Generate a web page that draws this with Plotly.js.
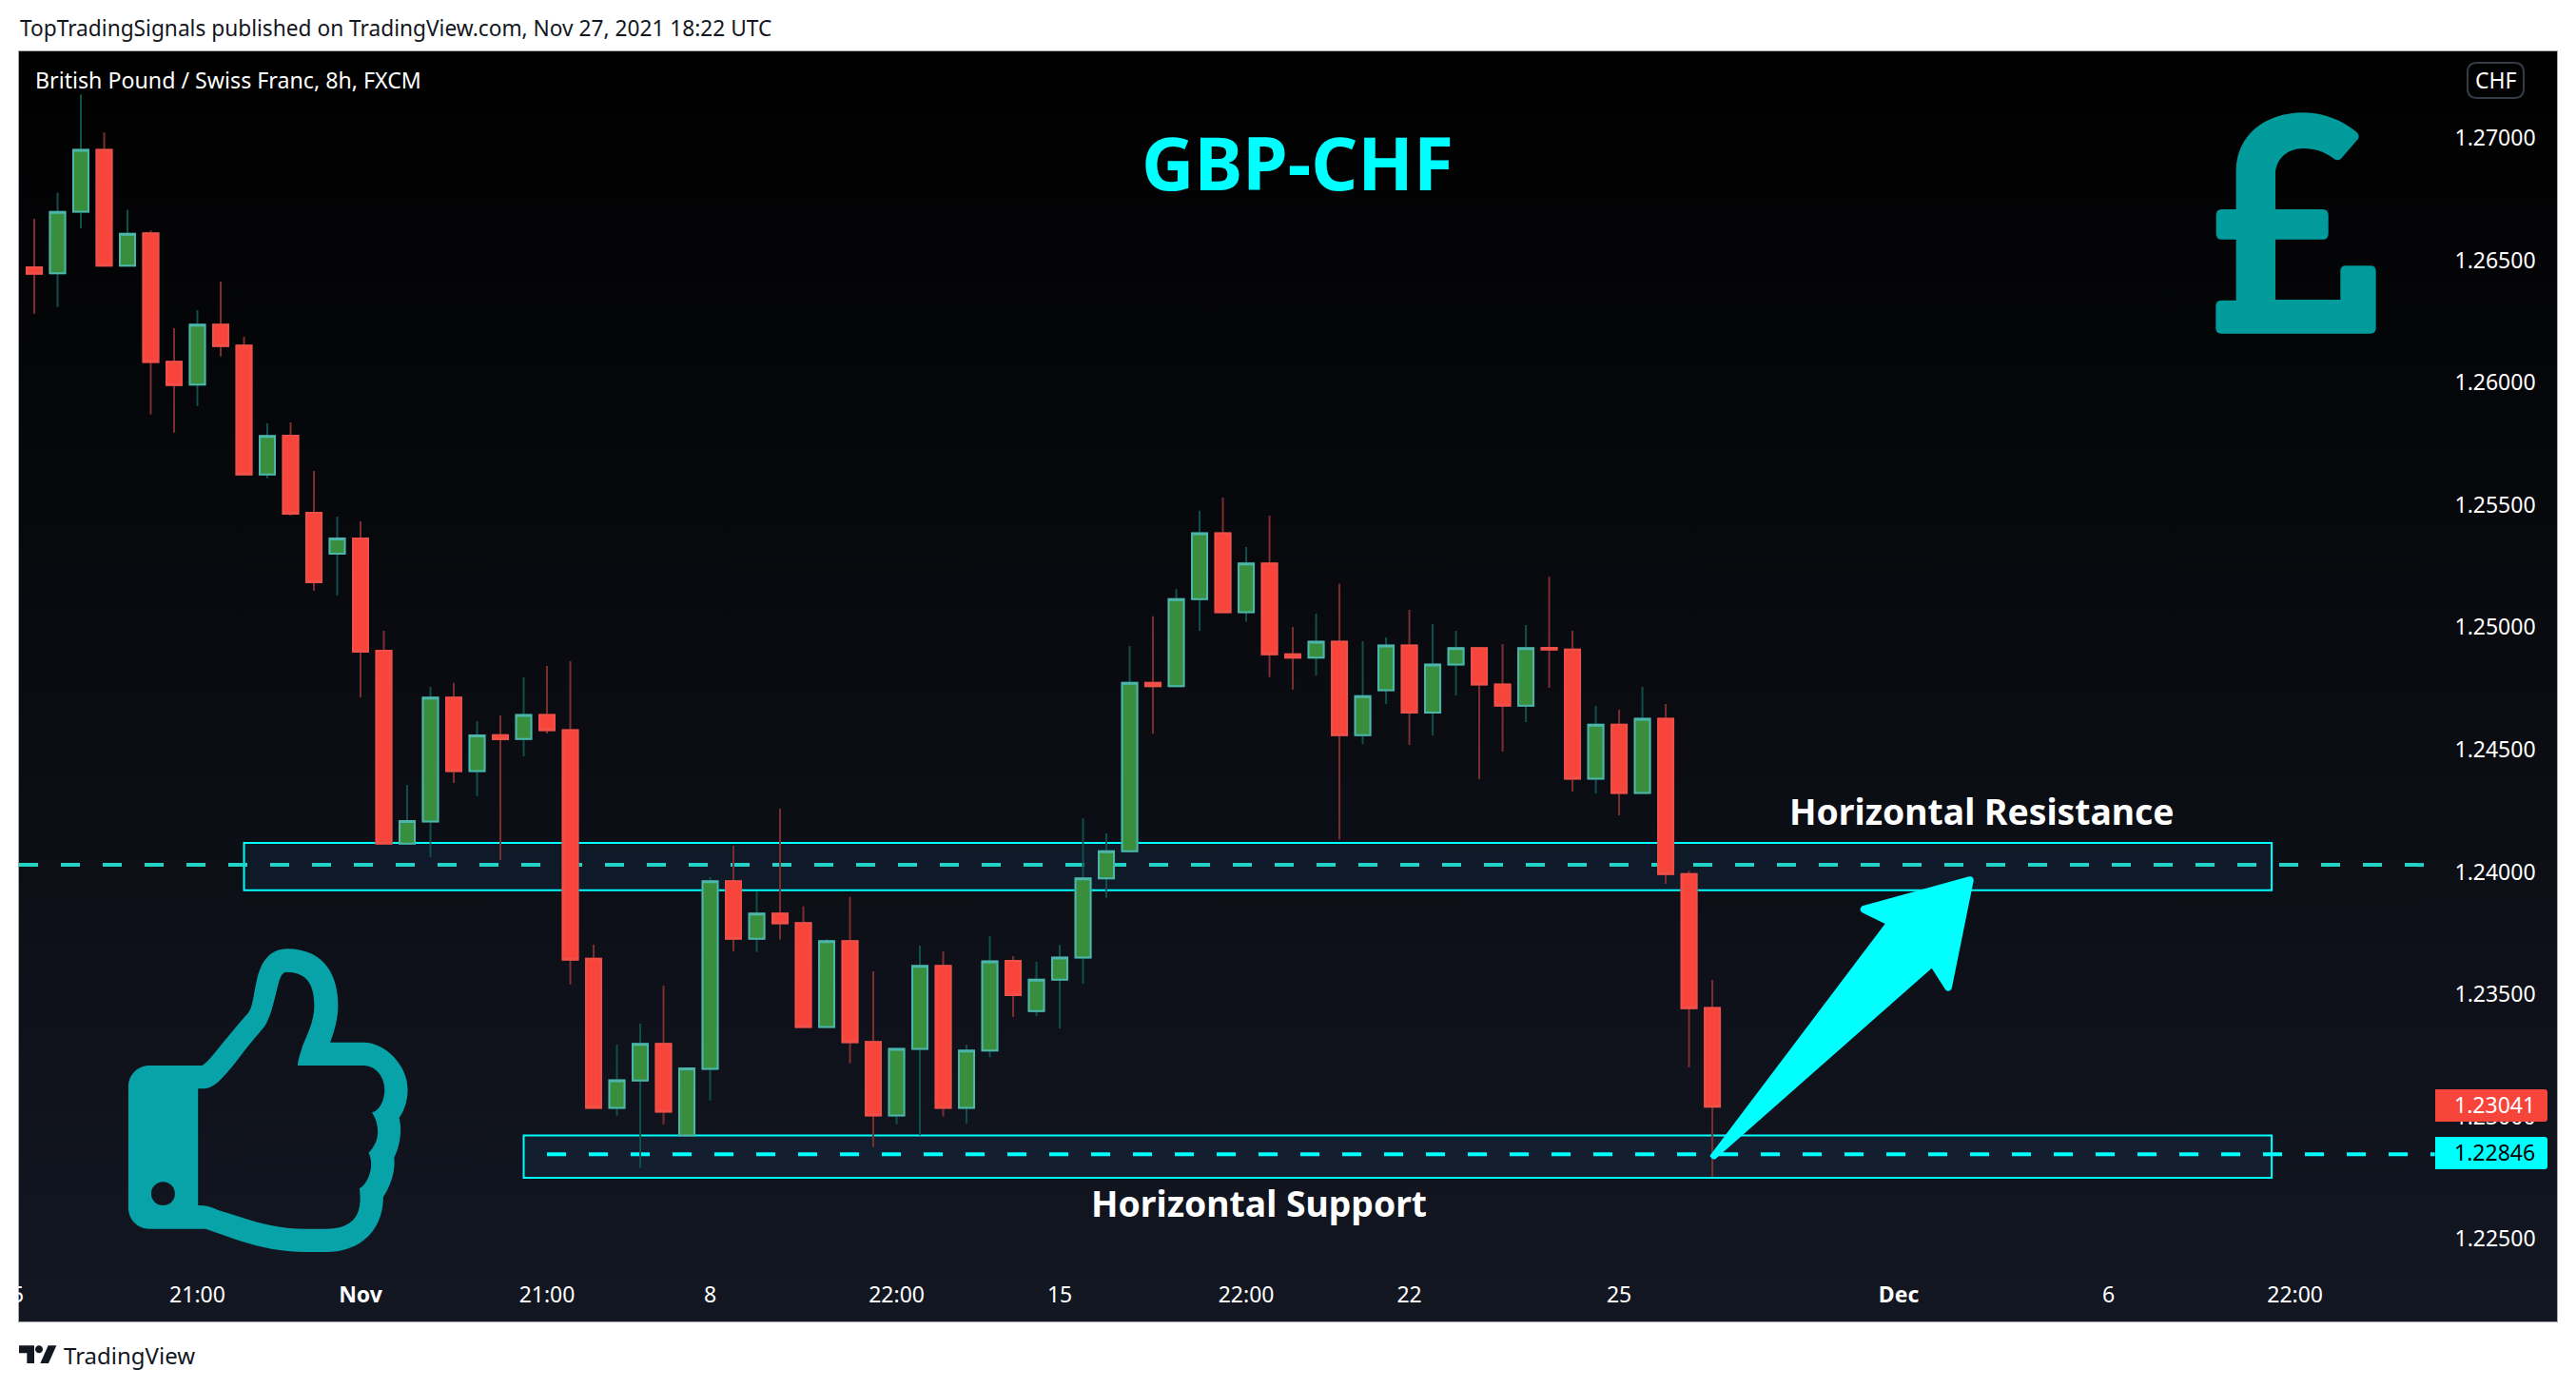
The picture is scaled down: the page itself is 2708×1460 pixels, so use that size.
<!DOCTYPE html>
<html><head><meta charset="utf-8">
<script src="https://cdn.plot.ly/plotly-3.0.1.min.js"></script>
<style>html,body{margin:0;padding:0;background:#fff;overflow:hidden}#chart{width:2708px;height:1460px}
#clip{position:absolute;left:0;top:1340px;width:19px;height:46px;background:#fff;z-index:5}</style>
</head><body><div id="chart"></div><div id="clip"></div>
<script>
// ---- Data ----
const candleOpen = [1.26471,1.26447,1.26699,1.26952,1.26478,1.26610,1.26085,1.25992,1.26237,1.26152,1.25625,1.25783,1.25468,1.25301,1.25363,1.24904,1.24116,1.24206,1.24713,1.24412,1.24559,1.24544,1.24642,1.24580,1.23645,1.23036,1.23148,1.23297,1.22923,1.23195,1.23962,1.23727,1.23830,1.23791,1.23366,1.23717,1.23305,1.23005,1.23277,1.23616,1.23036,1.23270,1.23637,1.23432,1.23560,1.23650,1.23974,1.24085,1.24773,1.24759,1.25115,1.25385,1.25062,1.25261,1.24890,1.24876,1.24941,1.24559,1.24743,1.24926,1.24652,1.24848,1.24915,1.24766,1.24680,1.24916,1.24909,1.24381,1.24602,1.24323,1.24626,1.23992,1.23444];
const candleHigh = [1.26670,1.26777,1.27178,1.27023,1.26707,1.26622,1.26222,1.26296,1.26413,1.26187,1.25834,1.25838,1.25639,1.25453,1.25433,1.24986,1.24356,1.24757,1.24773,1.24617,1.24640,1.24796,1.24842,1.24862,1.23703,1.23295,1.23380,1.23536,1.23197,1.23979,1.24107,1.23921,1.24259,1.23859,1.23726,1.23898,1.23594,1.23283,1.23699,1.23676,1.23295,1.23738,1.23656,1.23633,1.23702,1.24219,1.24158,1.24924,1.25045,1.25157,1.25477,1.25530,1.25328,1.25456,1.25002,1.25056,1.25177,1.24943,1.24959,1.25072,1.25013,1.24986,1.24915,1.24932,1.25009,1.25207,1.24986,1.24679,1.24663,1.24757,1.24687,1.24005,1.23559];
const candleLow = [1.26282,1.26309,1.26631,1.26478,1.26478,1.25870,1.25796,1.25905,1.26107,1.25625,1.25609,1.25456,1.25149,1.25130,1.24714,1.24116,1.24116,1.24061,1.24364,1.24310,1.24049,1.24473,1.24566,1.23540,1.23036,1.23004,1.22791,1.22969,1.22923,1.23066,1.23677,1.23673,1.23724,1.23362,1.23366,1.23219,1.22876,1.22969,1.22923,1.23001,1.22973,1.23242,1.23408,1.23411,1.23361,1.23544,1.23894,1.24080,1.24565,1.24759,1.24986,1.25056,1.25023,1.24796,1.24745,1.24803,1.24133,1.24522,1.24687,1.24519,1.24558,1.24722,1.24379,1.24492,1.24613,1.24753,1.24329,1.24321,1.24232,1.24320,1.23952,1.23201,1.22754];
const candleClose = [1.26445,1.26698,1.26952,1.26478,1.26608,1.26084,1.25990,1.26237,1.26150,1.25625,1.25782,1.25464,1.25184,1.25363,1.24900,1.24116,1.24208,1.24713,1.24412,1.24558,1.24543,1.24642,1.24580,1.23642,1.23036,1.23149,1.23297,1.23020,1.23197,1.23962,1.23727,1.23830,1.23790,1.23366,1.23717,1.23304,1.23005,1.23277,1.23616,1.23036,1.23270,1.23635,1.23497,1.23560,1.23650,1.23974,1.24085,1.24773,1.24759,1.25115,1.25385,1.25062,1.25261,1.24890,1.24876,1.24941,1.24559,1.24719,1.24926,1.24652,1.24848,1.24915,1.24766,1.24680,1.24915,1.24909,1.24381,1.24602,1.24323,1.24626,1.23992,1.23443,1.23041];
const barIndex = candleOpen.map((_, i) => i);
const priceTicks = [1.225,1.23,1.235,1.24,1.245,1.25,1.255,1.26,1.265,1.27];
const priceTickLabels = ['1.22500','1.23000','1.23500','1.24000','1.24500','1.25000','1.25500','1.26000','1.26500','1.27000'];
const timeTicks = [7,14,22,29,37,44,52,59,68,80,89,97];
const timeTickLabels = ['21:00','<b>Nov</b>','21:00','8','22:00','15','22:00','22','25','<b>Dec</b>','6','22:00'];
const lastPrice = 1.23041, supportPrice = 1.22846, resistancePrice = 1.24029;
const resistanceZone = {from: 9, to: 96, top: 1.24119, bottom: 1.23925};
const supportZone = {from: 21, to: 96, top: 1.22923, bottom: 1.22750};
const xRange = [-0.653, 108.24], yRange = [1.22163, 1.27354];
const FONT = '"Noto Sans", sans-serif';
const CYAN = '#00ffff';

// ---- pixel-to-paper helpers for decoration (icons, text) ----
const W = 2708, H = 1460, L = 20, R = 2688, T = 54, B = 1389;
const fx = px => (px - L) / (R - L);
const fy = py => (B - py) / (B - T);
function iconPath(str, ox, oy, sx, sy) {
  return str.replace(/(-?[\d.]+),(-?[\d.]+)/g, (m, a, b) =>
    fx(ox + a / sx).toFixed(6) + ',' + fy(oy + b / sy).toFixed(6));
}
const poundIcon = 'M452,540 L452,420 C452,310 540,235 665,235 C730,235 790,262 830,295 Q845,308 835,320 L785,378 Q775,390 760,380 C730,358 700,348 665,348 C610,348 576,385 576,430 L576,540 L725,540 Q743,540 743,558 L743,617 Q743,635 725,635 L576,635 L576,825 L781,825 L781,735 Q781,718 798,718 L875,718 Q893,718 893,735 L893,915 Q893,932 875,932 L405,932 Q388,932 388,915 L388,845 Q388,827 405,827 L452,827 L452,635 L407,635 Q389,635 389,617 L389,558 Q389,540 407,540 Z';
const thumbIcon = 'M440,480 C405,480 378,510 378,545 L378,930 C378,965 405,995 440,995 L605,995 C700,1030 780,1068 900,1068 L960,1068 C1060,1068 1128,1000 1128,895 C1150,860 1165,810 1160,770 C1175,740 1185,690 1175,645 C1195,615 1200,580 1200,555 C1200,480 1135,407 1070,407 L972,407 C985,370 995,330 995,290 C995,190 950,112 845,112 C790,112 765,160 755,215 C745,260 745,295 730,315 C700,350 670,390 640,430 C625,450 605,475 595,480 Z '
 + 'M583,553 L600,553 C630,553 655,520 690,475 C720,430 750,395 780,355 C800,320 810,260 820,220 C825,200 832,185 842,185 C900,185 925,220 925,290 C925,340 905,380 890,420 C885,440 877,460 876,480 L1070,480 C1105,480 1132,515 1132,555 C1132,590 1118,622 1095,628 C1105,645 1112,665 1112,690 C1112,715 1100,740 1085,755 C1092,770 1093,785 1092,800 C1090,825 1078,855 1058,868 C1060,880 1060,890 1060,900 C1060,960 1030,995 960,995 L900,995 C790,995 720,960 640,935 C620,925 605,921 583,921 Z '
 + 'M445,884 C445,864 460,847 480,847 C500,847 515,864 515,884 C515,904 500,921 480,921 C460,921 445,904 445,884 Z';
const arrowIcon = 'M52,945 L605,213 L533,178 Q520,168 533,157 L870,64 Q885,62 884,78 L815,418 Q805,432 795,420 L752,353 L70,955 Q60,958 52,945 Z';
const logoBar = 'M30,43 L78,43 L78,99 L55,99 L55,67 L30,67 Z';
const logoSlash = 'M122,43 L148,43 L123,99 L97,99 Z';
const logoDot = 'M81,55 C81,48 86,43 93,43 C100,43 105,48 105,55 C105,62 100,67 93,67 C86,67 81,62 81,55 Z';
const chfBox = 'M2594,76 Q2594,66 2604,66 L2643,66 Q2653,66 2653,76 L2653,93 Q2653,103 2643,103 L2604,103 Q2594,103 2594,93 Z';
const priceTag = 'M2560,0 L2675,0 Q2678,0 2678,3 L2678,31 Q2678,34 2675,34 L2560,34 Z';

function deco(path, color, ox, oy, sx, sy) {
  return {type:'path', xref:'paper', yref:'paper', layer:'above',
    path: iconPath(path, ox, oy, sx, sy), fillcolor: color, line:{width:0}};
}
function label(text, px, py, size, color, anchor, extra) {
  return Object.assign({text, xref:'paper', yref:'paper', x:fx(px), y:fy(py), showarrow:false,
    xanchor:anchor||'center', yanchor:'middle', align:'center',
    font:{family:FONT, size, color}, borderpad:0}, extra||{});
}

const bgSvg = '<svg xmlns="http://www.w3.org/2000/svg" width="100" height="100" preserveAspectRatio="none"><defs><linearGradient id="g" x1="0" y1="0" x2="0" y2="1"><stop offset="0" stop-color="#000000"/><stop offset="1" stop-color="#131722"/></linearGradient></defs><rect width="100" height="100" fill="url(#g)"/></svg>';

const wickTrace = {type:'candlestick', x:barIndex, open:candleOpen, high:candleHigh, low:candleLow, close:candleClose,
  whiskerwidth:0, hoverinfo:'skip', showlegend:false,
  increasing:{line:{color:'#0f4f4c', width:2}, fillcolor:'#0f4f4c'},
  decreasing:{line:{color:'#7d2e2e', width:2}, fillcolor:'#7d2e2e'}};
const bodyTrace = {type:'candlestick', x:barIndex, open:candleOpen, close:candleClose,
  high:candleOpen.map((o,i)=>Math.max(o,candleClose[i])), low:candleOpen.map((o,i)=>Math.min(o,candleClose[i])),
  whiskerwidth:0, hoverinfo:'skip', showlegend:false,
  increasing:{line:{color:'#4db6ac', width:2}, fillcolor:'#388e3c'},
  decreasing:{line:{color:'#f0504a', width:2}, fillcolor:'#f7453b'}};

const shapes = [
  {type:'rect', xref:'x', yref:'y', x0:resistanceZone.from, x1:resistanceZone.to, y0:resistanceZone.bottom, y1:resistanceZone.top, layer:'below', fillcolor:'rgba(40,100,160,0.13)', line:{color:CYAN, width:2}},
  {type:'rect', xref:'x', yref:'y', x0:supportZone.from, x1:supportZone.to, y0:supportZone.bottom, y1:supportZone.top, layer:'below', fillcolor:'rgba(40,100,160,0.13)', line:{color:CYAN, width:2}},
  {type:'line', xref:'x', yref:'y', x0:xRange[0], x1:102.7, y0:resistancePrice, y1:resistancePrice, layer:'below', line:{color:'#22d3c5', width:4, dash:'20px,24px'}},
  {type:'line', xref:'x', yref:'y', x0:22, x1:103, y0:supportPrice, y1:supportPrice, layer:'below', line:{color:CYAN, width:4, dash:'20px,24px'}},
  deco(arrowIcon, CYAN, 1780, 900, 3, 3),
  deco(poundIcon, '#029b9c', 2200, 40, 3, 3),
  deco(thumbIcon, '#08a3a8', 0, 960, 2.8, 3),
  deco(logoBar, '#131722', 10, 1400, 3, 3),
  deco(logoSlash, '#131722', 10, 1400, 3, 3),
  deco(logoDot, '#131722', 10, 1400, 3, 3),
  deco(priceTag, '#f7453b', 0, 1145, 1, 1),
  deco(priceTag, CYAN, 0, 1195, 1, 1),
  {type:'path', xref:'paper', yref:'paper', layer:'above', path:iconPath(chfBox,0,0,1,1), fillcolor:'rgba(0,0,0,0)', line:{color:'#363a45', width:2}},
];

const annotations = [
  label('TopTradingSignals published on TradingView.com, Nov 27, 2021 18:22 UTC', 20, 30, 22.7, '#131722', 'left'),
  label('British Pound / Swiss Franc, 8h, FXCM', 36, 84, 23.2, '#ffffff', 'left'),
  label('TradingView', 66, 1424, 24, '#131722', 'left'),
  label('CHF', 2624, 84, 23, '#ffffff'),
  label('<b>GBP-CHF</b>', 1364, 170, 76.5, CYAN),
  label('<b>Horizontal Resistance</b>', 2083, 853, 37.3, '#ffffff'),
  label('<b>Horizontal Support</b>', 1323, 1264, 37.3, '#ffffff'),
  label('5', 18, 1360, 23, '#ffffff'),
  label(lastPrice.toFixed(5), 2622, 1161, 23, '#ffffff'),
  label(supportPrice.toFixed(5), 2622, 1211, 23, '#000000'),
];

const layout = {
  width:W, height:H, margin:{l:L, r:W-R, t:T, b:H-B, pad:0},
  paper_bgcolor:'#ffffff', plot_bgcolor:'#000000', showlegend:false,
  boxgap:0.347, boxgroupgap:0, boxmode:'overlay',
  images:[{source:'data:image/svg+xml;utf8,'+encodeURIComponent(bgSvg), xref:'paper', yref:'paper', x:0, y:1, sizex:1, sizey:1, sizing:'stretch', xanchor:'left', yanchor:'top', layer:'below'}],
  xaxis:{type:'linear', range:xRange, rangeslider:{visible:false}, showgrid:false, zeroline:false,
    tickmode:'array', tickvals:timeTicks, ticktext:timeTickLabels, ticks:'', ticklabelposition:'inside', ticklabelstandoff:17,
    tickfont:{family:FONT, size:23, color:'#ffffff'}, showline:true, mirror:true, linecolor:'#a6a9b2', linewidth:1},
  yaxis:{type:'linear', side:'right', range:yRange, showgrid:false, zeroline:false,
    tickmode:'array', tickvals:priceTicks, ticktext:priceTickLabels, ticks:'', ticklabelposition:'inside', ticklabelstandoff:24,
    tickfont:{family:FONT, size:23, color:'#ffffff'}, showline:true, mirror:true, linecolor:'#a6a9b2', linewidth:1},
  shapes, annotations,
};
Plotly.newPlot('chart', [wickTrace, bodyTrace], layout, {displayModeBar:false, staticPlot:true});
</script></body></html>
